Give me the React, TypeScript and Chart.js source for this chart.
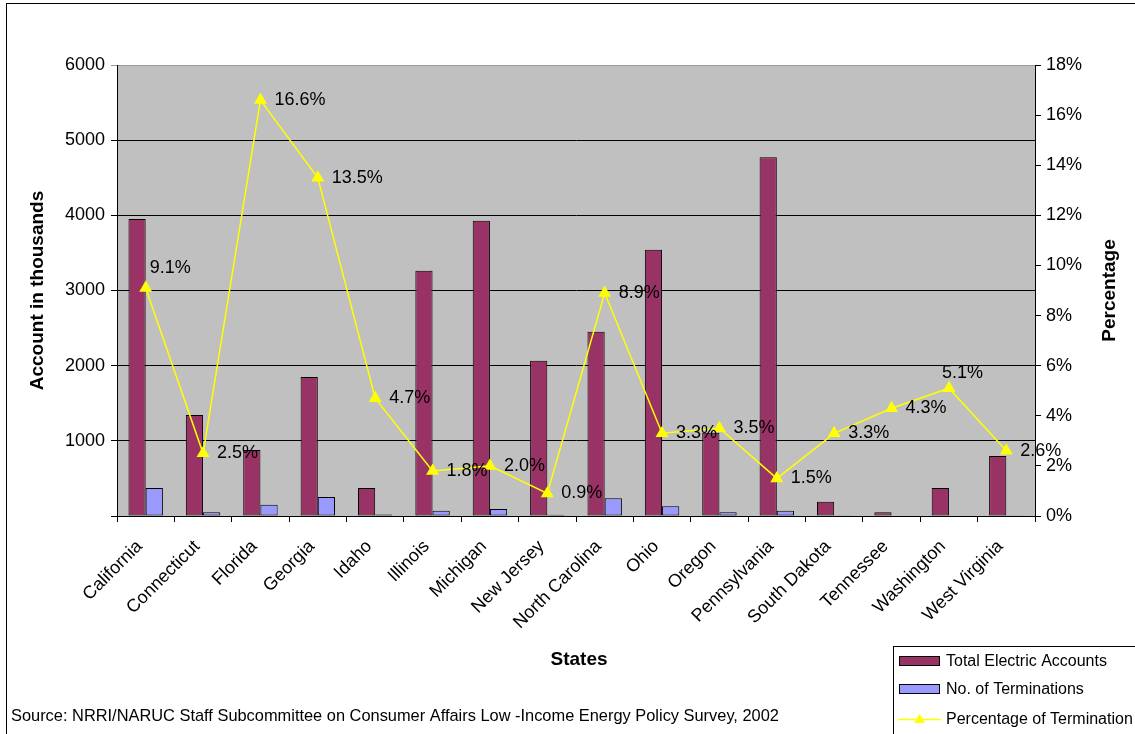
import React, { useEffect, useRef } from "react";
import { Chart, registerables } from "chart.js";

Chart.register(...registerables);

const states = [
  "California", "Connecticut", "Florida", "Georgia", "Idaho", "Illinois", "Michigan", "New Jersey",
  "North Carolina", "Ohio", "Oregon", "Pennsylvania", "South Dakota", "Tennessee", "Washington", "West Virginia",
];
const totalAccounts = [3950, 1343, 878, 1850, 372, 3262, 3927, 2065, 2451, 3541, 1108, 4774, 190, 49, 372, 798];
const terminations = [372, 50, 150, 253, 20, 70, 93, 18, 235, 129, 49, 70, 2, 0, 8, 10];
const pctTerminations = [9.1, 2.5, 16.6, 13.5, 4.7, 1.8, 2.0, 0.9, 8.9, 3.3, 3.5, 1.5, 3.3, 4.3, 5.1, 2.6];
const leftTicksMax = 6000;
const rightTicksMax = 18;

const FONT = "Arial, 'Liberation Sans', sans-serif";
const MAROON = "#993366";
const LAVENDER = "#9999FF";
const YELLOW = "#FFFF00";
const PLOT_BG = "#C0C0C0";

const decorPlugin = {
  id: "decor",
  beforeDraw(chart: any) {
    const { ctx, chartArea } = chart;
    ctx.save();
    ctx.fillStyle = "#ffffff";
    ctx.fillRect(0, 0, chart.width, chart.height);
    ctx.fillStyle = PLOT_BG;
    ctx.fillRect(chartArea.left, chartArea.top, chartArea.right - chartArea.left, chartArea.bottom - chartArea.top);
    ctx.strokeStyle = "#000";
    ctx.lineWidth = 1;
    ctx.strokeRect(6.5, 3.5, chart.width + 50, chart.height + 50);
    ctx.restore();
  },
  afterDatasetsDraw(chart: any) {
    const { ctx } = chart;
    const meta = chart.getDatasetMeta(2);
    ctx.save();
    ctx.fillStyle = "#000";
    ctx.font = `18px ${FONT}`;
    ctx.textBaseline = "middle";
    ctx.textAlign = "left";
    const special: Record<number, [number, number]> = { 0: [4, -20], 14: [-7, -15] };
    meta.data.forEach((pt: any, i: number) => {
      const off = special[i] || [14, 0];
      ctx.fillText(pctTerminations[i].toFixed(1) + "%", pt.x + off[0], pt.y + off[1]);
    });
    ctx.restore();
  },
  afterDraw(chart: any) {
    const { ctx, chartArea } = chart;
    ctx.save();
    ctx.fillStyle = "#000";
    ctx.font = `bold 19px ${FONT}`;
    ctx.textAlign = "center";
    ctx.textBaseline = "middle";
    ctx.fillText("States", (chartArea.left + chartArea.right) / 2 + 3, 660);
    const midY = (chartArea.top + chartArea.bottom) / 2;
    ctx.save();
    ctx.translate(38, midY);
    ctx.rotate(-Math.PI / 2);
    ctx.fillText("Account in thousands", 0, 0);
    ctx.restore();
    ctx.save();
    ctx.translate(1110, midY);
    ctx.rotate(-Math.PI / 2);
    ctx.fillText("Percentage", 0, 0);
    ctx.restore();

    ctx.font = `16.4px ${FONT}`;
    ctx.textAlign = "left";
    ctx.fillText("Source: NRRI/NARUC Staff Subcommittee on Consumer Affairs Low -Income Energy Policy Survey, 2002", 11, 716);

    ctx.fillStyle = "#fff";
    ctx.fillRect(893, 646, 260, 100);
    ctx.strokeStyle = "#000";
    ctx.lineWidth = 1;
    ctx.strokeRect(893.5, 646.5, 300, 100);
    const rows: [string, string, number][] = [
      ["Total Electric Accounts", MAROON, 661],
      ["No. of Terminations", LAVENDER, 689],
      ["Percentage of Termination", "line", 719],
    ];
    ctx.font = `16px ${FONT}`;
    rows.forEach(([label, color, y]) => {
      if (color === "line") {
        ctx.strokeStyle = YELLOW;
        ctx.lineWidth = 1.5;
        ctx.beginPath();
        ctx.moveTo(898, y + 0.5);
        ctx.lineTo(941, y + 0.5);
        ctx.stroke();
        ctx.fillStyle = YELLOW;
        ctx.beginPath();
        ctx.moveTo(919.5, y - 5);
        ctx.lineTo(925, y + 4);
        ctx.lineTo(914, y + 4);
        ctx.closePath();
        ctx.fill();
      } else {
        ctx.fillStyle = color;
        ctx.fillRect(899.5, y - 4.5, 40, 9);
        ctx.strokeStyle = "#000";
        ctx.lineWidth = 1;
        ctx.strokeRect(899.5, y - 4.5, 40, 9);
      }
      ctx.fillStyle = "#000";
      ctx.textBaseline = "middle";
      ctx.fillText(label, 946, y + 1);
    });
    ctx.restore();
  },
};

export default function App() {
  const canvasRef = useRef<HTMLCanvasElement | null>(null);

  useEffect(() => {
    const canvas = canvasRef.current;
    if (!canvas) return;
    Chart.defaults.font.family = FONT;
    Chart.defaults.color = "#000";
    const chart = new Chart(canvas, {
      type: "bar",
      data: {
        labels: states,
        datasets: [
          {
            type: "bar",
            label: "Total Electric Accounts",
            data: totalAccounts,
            backgroundColor: MAROON,
            borderColor: "#000",
            borderWidth: 1,
            borderSkipped: false,
            yAxisID: "y",
            order: 2,
            categoryPercentage: 0.6,
            barPercentage: 1,
          },
          {
            type: "bar",
            label: "No. of Terminations",
            data: terminations,
            backgroundColor: LAVENDER,
            borderColor: "#000",
            borderWidth: 1,
            borderSkipped: false,
            yAxisID: "y",
            order: 2,
            categoryPercentage: 0.6,
            barPercentage: 1,
          },
          {
            type: "line",
            label: "Percentage of Termination",
            data: pctTerminations,
            borderColor: YELLOW,
            backgroundColor: YELLOW,
            borderWidth: 1.5,
            pointStyle: "triangle",
            pointRadius: 6,
            pointBackgroundColor: YELLOW,
            pointBorderColor: YELLOW,
            tension: 0,
            yAxisID: "y1",
            order: 1,
          } as any,
        ],
      },
      options: {
        responsive: false,
        animation: false,
        devicePixelRatio: 1,
        layout: { padding: { top: 65, left: 0, right: 0, bottom: 0 } },
        plugins: {
          legend: { display: false },
          tooltip: { enabled: false },
          title: { display: false },
        },
        scales: {
          x: {
            offset: true,
            grid: {
              offset: true,
              drawOnChartArea: false,
              drawTicks: true,
              tickLength: 6,
              color: "#000",
            },
            border: { display: true, color: "#000", width: 1 },
            ticks: {
              autoSkip: false,
              minRotation: 45,
              maxRotation: 45,
              font: { size: 18, family: FONT },
              color: "#000",
              padding: 14,
              labelOffset: -6,
            },
            afterFit(scale: any) {
              scale.height = 218;
            },
          },
          y: {
            position: "left",
            min: 0,
            max: leftTicksMax,
            ticks: {
              stepSize: 1000,
              font: { size: 18, family: FONT },
              color: "#000",
              padding: 6,
              callback: (v: any) => (v === 0 ? "" : String(v)),
            },
            grid: {
              color: (c: any) => (c.tick && c.tick.value === leftTicksMax ? "#9a9a9a" : "#000"),
              tickLength: 6,
              drawTicks: true,
            },
            border: { display: true, color: "#000", width: 1 },
            afterFit(scale: any) {
              scale.width = 117;
            },
          },
          y1: {
            position: "right",
            min: 0,
            max: rightTicksMax,
            ticks: {
              stepSize: 2,
              font: { size: 18, family: FONT },
              color: "#000",
              padding: 5,
              callback: (v: any) => v + "%",
            },
            grid: {
              drawOnChartArea: false,
              color: "#000",
              tickLength: 6,
              drawTicks: true,
            },
            border: { display: true, color: "#000", width: 1 },
            afterFit(scale: any) {
              scale.width = 100;
            },
          },
        },
      },
      plugins: [decorPlugin],
    });
    return () => chart.destroy();
  }, []);

  return (
    <div style={{ position: "absolute", left: 0, top: 0, width: 1135, height: 734, background: "#fff" }}>
      <canvas ref={canvasRef} width={1135} height={734} style={{ display: "block", width: 1135, height: 734 }} />
    </div>
  );
}
